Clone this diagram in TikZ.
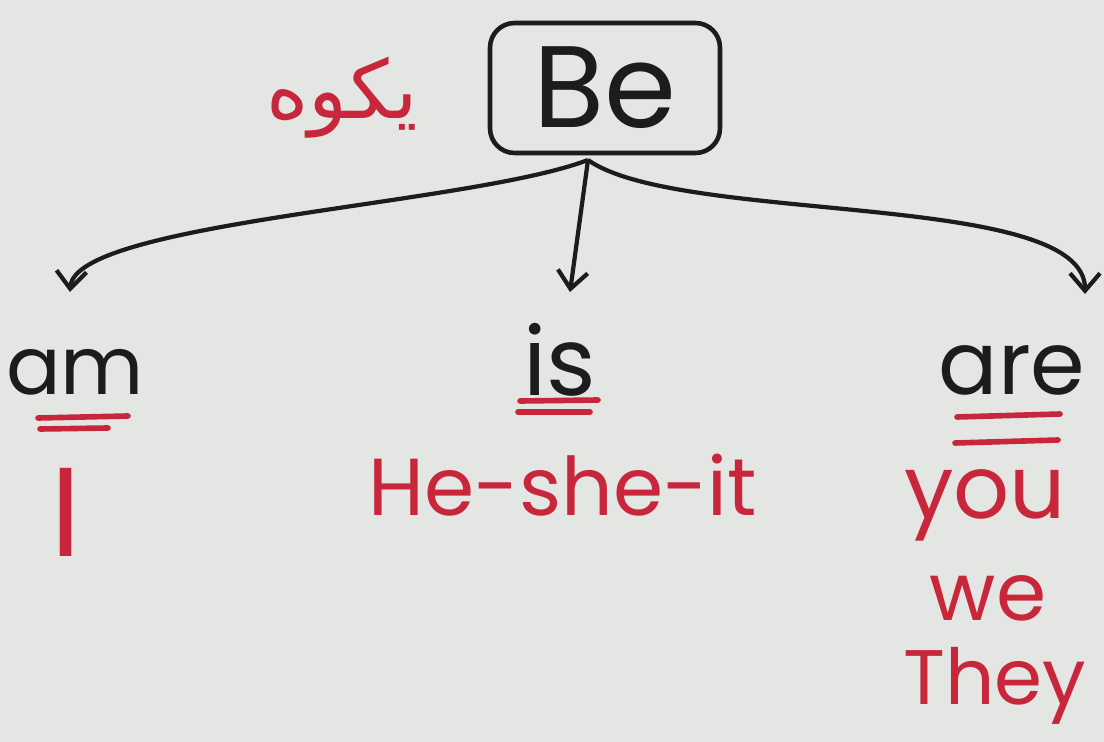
\documentclass[tikz,border=0pt]{standalone}
\usepackage{fontspec}
\setmainfont{Poppins}
\newfontfamily\arabicfont[Script=Arabic]{DejaVu Sans}
\TeXXeTstate=1
\usepackage{xcolor}
\definecolor{boardbg}{RGB}{228,230,227}
\definecolor{ink}{RGB}{28,28,28}
\definecolor{marker}{RGB}{200,38,58}
\usetikzlibrary{arrows.meta,positioning}
\tikzset{
  headbox/.style={rectangle,rounded corners=14pt,
    draw=ink,line width=2.6pt,text=ink,
    minimum width=4.6cm,minimum height=2.6cm,
    font=\fontsize{66}{72}\selectfont},
  verb/.style={text=ink,inner sep=0pt,
    font=\fontsize{46}{50}\selectfont},
  subj/.style={text=marker,inner sep=0pt,
    font=\fontsize{46}{52}\selectfont},
  arr/.style={-{Straight Barb[length=3.5mm,width=6mm]},line width=2.4pt,draw=ink},
  dbl/.style={draw=marker,line width=3.2pt,line cap=round},
}
\begin{document}
\begin{tikzpicture}[x=0.02cm,y=-0.02cm]
  \fill[boardbg] (0,0) rectangle (1104,742);
  \useasboundingbox (0,0) rectangle (1104,742);
  % head word
  \node (be) [headbox] at (605,88) {Be};
  \node (gloss) [text=marker,font=\arabicfont\fontsize{46}{52}\selectfont]
    at (342,98) {\beginR يكوه\endR};
  \coordinate (fork) at (588,160);
  % verb forms
  \node (am)  [verb] at (75,372)   {am};
  \node (is)  [verb,font=\fontsize{54}{60}\selectfont] at (560,360) {is};
  \node (are) [verb,font=\fontsize{50}{56}\selectfont] at (1012,370) {are};
  \coordinate (tip_am)  at (70,292);
  \coordinate (tip_is)  at (570,292);
  \coordinate (tip_are) at (1085,294);
  % subjects
  \node (i)    [subj,font=\fontsize{72}{80}\selectfont] at (66,512) {I};
  \node (hsi)  [subj] at (563,485) {He-she-it};
  \node (you)  [subj,font=\fontsize{50}{56}\selectfont] at (985,505) {you};
  \node (we)   [subj] at (988,598) {we};
  \node (they) [subj,font=\fontsize{44}{50}\selectfont] at (995,686) {They};

  \draw[arr] (fork) .. controls (470,205) and (75,222) .. (tip_am);
  \draw[arr] (fork) -- (tip_is);
  \draw[arr] (fork) .. controls (680,225) and (1085,190) .. (tip_are);
  % double underlines
  \draw[dbl] (38,418) -- (128,416);
  \draw[dbl] (40,429) -- (108,428);
  \draw[dbl] (520,401) -- (598,400);
  \draw[dbl] (518,412) -- (590,412);
  \draw[dbl] (957,417) -- (1060,414);
  \draw[dbl] (955,443) -- (1058,440);
\end{tikzpicture}
\end{document}
